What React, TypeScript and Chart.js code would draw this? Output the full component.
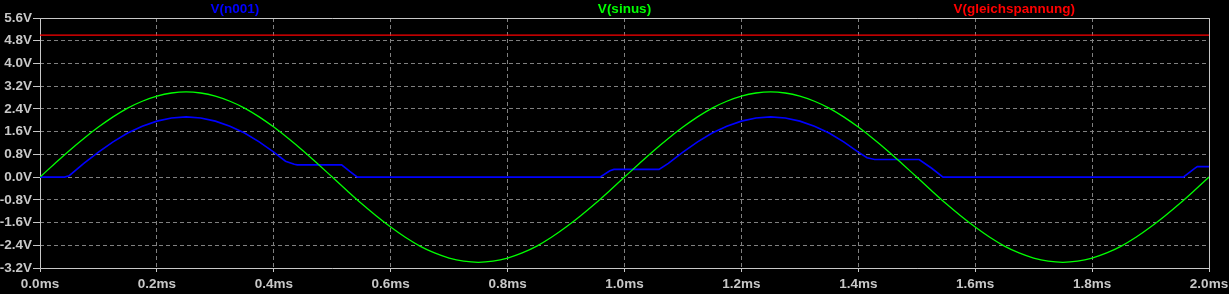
import React, { useEffect, useRef } from 'react';
import { Chart, registerables } from 'chart.js';

Chart.register(...registerables);

// ---- data ----
const sinusTime = [
  0, 0.025, 0.05, 0.075, 0.1, 0.125, 0.15, 0.175, 0.2, 0.225,
  0.25, 0.275, 0.3, 0.325, 0.35, 0.375, 0.4, 0.425, 0.45, 0.475,
  0.5, 0.525, 0.55, 0.575, 0.6, 0.625, 0.65, 0.675, 0.7, 0.725,
  0.75, 0.775, 0.8, 0.825, 0.85, 0.875, 0.9, 0.925, 0.95, 0.975,
  1.0, 1.025, 1.05, 1.075, 1.1, 1.125, 1.15, 1.175, 1.2, 1.225,
  1.25, 1.275, 1.3, 1.325, 1.35, 1.375, 1.4, 1.425, 1.45, 1.475,
  1.5, 1.525, 1.55, 1.575, 1.6, 1.625, 1.65, 1.675, 1.7, 1.725,
  1.75, 1.775, 1.8, 1.825, 1.85, 1.875, 1.9, 1.925, 1.95, 1.975,
  2.0,
];
const sinusV = [
  0, 0.47, 0.93, 1.36, 1.76, 2.12, 2.43, 2.67, 2.85, 2.96,
  3.0, 2.96, 2.85, 2.67, 2.43, 2.12, 1.76, 1.36, 0.93, 0.47,
  0, -0.47, -0.93, -1.36, -1.76, -2.12, -2.43, -2.67, -2.85, -2.96,
  -3.0, -2.96, -2.85, -2.67, -2.43, -2.12, -1.76, -1.36, -0.93, -0.47,
  0, 0.47, 0.93, 1.36, 1.76, 2.12, 2.43, 2.67, 2.85, 2.96,
  3.0, 2.96, 2.85, 2.67, 2.43, 2.12, 1.76, 1.36, 0.93, 0.47,
  0, -0.47, -0.93, -1.36, -1.76, -2.12, -2.43, -2.67, -2.85, -2.96,
  -3.0, -2.96, -2.85, -2.67, -2.43, -2.12, -1.76, -1.36, -0.93, -0.47,
  0,
];

const n001Time = [
  0, 0.042, 0.05, 0.075, 0.1, 0.125, 0.15, 0.175, 0.2, 0.225,
  0.25, 0.275, 0.3, 0.325, 0.35, 0.375, 0.4, 0.42, 0.435, 0.44,
  0.516, 0.53, 0.543, 0.958, 0.975, 0.982, 1.059, 1.075, 1.1, 1.125,
  1.15, 1.175, 1.2, 1.225, 1.25, 1.275, 1.3, 1.325, 1.35, 1.375,
  1.4, 1.415, 1.428, 1.504, 1.525, 1.545, 1.956, 1.975, 1.98, 2.0,
];
const n001V = [
  0, 0, 0.05, 0.48, 0.88, 1.24, 1.55, 1.79, 1.97, 2.08,
  2.12, 2.08, 1.97, 1.79, 1.55, 1.24, 0.88, 0.56, 0.45, 0.43,
  0.43, 0.2, 0, 0, 0.22, 0.27, 0.27, 0.48, 0.88, 1.24,
  1.55, 1.79, 1.97, 2.08, 2.12, 2.08, 1.97, 1.79, 1.55, 1.24,
  0.88, 0.68, 0.62, 0.62, 0.32, 0, 0, 0.3, 0.37, 0.37,
];

const gleichTime = [0, 2.0];
const gleichV = [5.0, 5.0];

const seriesNames = ['V(n001)', 'V(sinus)', 'V(gleichspannung)'];
const seriesColors = ['#0000ff', '#00ff00', '#ff0000'];

const xMin = 0;
const xMax = 2.0;
const xStep = 0.2;
const yMin = -3.2;
const yMax = 5.6;
const yStep = 0.8;

const FONT = '"Liberation Sans", Arial, sans-serif';
const AXIS_COLOR = '#c8c8c8';
const GRID_COLOR = '#808080';

function zip(t: number[], v: number[]) {
  return t.map((x, i) => ({ x, y: v[i] }));
}

const align = (p: number) => Math.round(p - 0.5) + 0.5;

const framePlugin = {
  id: 'frame',
  beforeDatasetsDraw(chart: any) {
    const { ctx, chartArea } = chart;
    const l = align(chartArea.left);
    const r = align(chartArea.right);
    const t = align(chartArea.top);
    const b = align(chartArea.bottom);
    ctx.save();
    ctx.strokeStyle = AXIS_COLOR;
    ctx.lineWidth = 1;
    ctx.setLineDash([]);
    ctx.beginPath();
    ctx.moveTo(l, t);
    ctx.lineTo(r, t);
    ctx.lineTo(r, b);
    ctx.lineTo(l, b);
    ctx.closePath();
    ctx.stroke();
    ctx.restore();
  },
  afterDraw(chart: any) {
    const { ctx, chartArea } = chart;
    const w = chartArea.right - chartArea.left;
    ctx.save();
    ctx.font = `bold 13.5px ${FONT}`;
    ctx.textAlign = 'center';
    ctx.textBaseline = 'middle';
    seriesNames.forEach((name, i) => {
      ctx.fillStyle = seriesColors[i];
      ctx.fillText(name, chartArea.left + (w * (2 * i + 1)) / 6, 9.5);
    });
    ctx.restore();
  },
};

export default function App() {
  const ref = useRef<HTMLCanvasElement | null>(null);

  useEffect(() => {
    document.body.style.margin = '0';
    document.body.style.background = '#000';
    const canvas = ref.current;
    if (!canvas) return;
    const chart = new Chart(canvas, {
      type: 'line',
      data: {
        datasets: [
          {
            label: seriesNames[0],
            data: zip(n001Time, n001V),
            borderColor: seriesColors[0],
            borderWidth: 1.6,
            pointRadius: 0,
            tension: 0,
            order: 2,
          },
          {
            label: seriesNames[1],
            data: zip(sinusTime, sinusV),
            borderColor: seriesColors[1],
            borderWidth: 1.3,
            pointRadius: 0,
            cubicInterpolationMode: 'monotone',
            order: 1,
          },
          {
            label: seriesNames[2],
            data: zip(gleichTime, gleichV),
            borderColor: seriesColors[2],
            borderWidth: 1.3,
            pointRadius: 0,
            order: 0,
          },
        ],
      },
      options: {
        animation: false,
        responsive: false,
        maintainAspectRatio: false,
        events: [],
        layout: { padding: { top: 18, right: 20, left: 0, bottom: 0 } },
        plugins: {
          legend: { display: false },
          tooltip: { enabled: false },
          title: { display: false },
        },
        scales: {
          x: {
            type: 'linear',
            min: xMin,
            max: xMax,
            border: { display: false, dash: [4, 3] },
            grid: {
              color: GRID_COLOR,
              lineWidth: 1,
              drawTicks: true,
              tickLength: 4,
              tickColor: AXIS_COLOR,
              tickBorderDash: [],
            },
            ticks: {
              stepSize: xStep,
              autoSkip: false,
              maxRotation: 0,
              padding: 4,
              color: AXIS_COLOR,
              font: { family: FONT, size: 13.5, weight: 'bold' },
              callback: (v: any) => Number(v).toFixed(1) + 'ms',
            },
            afterFit: (s: any) => {
              s.height = 26;
              s.paddingLeft = 0;
              s.paddingRight = 0;
            },
          },
          y: {
            type: 'linear',
            min: yMin,
            max: yMax,
            border: { display: false, dash: [4, 3] },
            grid: {
              color: GRID_COLOR,
              lineWidth: 1,
              drawTicks: true,
              tickLength: 7,
              tickColor: AXIS_COLOR,
              tickBorderDash: [],
            },
            ticks: {
              stepSize: yStep,
              autoSkip: false,
              padding: 1,
              color: AXIS_COLOR,
              font: { family: FONT, size: 13.5, weight: 'bold' },
              callback: (v: any) => {
                const n = Math.abs(Number(v)) < 1e-9 ? 0 : Number(v);
                return n.toFixed(1) + 'V';
              },
            },
            afterFit: (s: any) => {
              s.width = 40;
              s.paddingTop = 0;
              s.paddingBottom = 0;
            },
          },
        },
      } as any,
      plugins: [framePlugin],
    });
    return () => chart.destroy();
  }, []);

  return (
    <div style={{ width: 1229, height: 294, background: '#000' }}>
      <canvas ref={ref} width={1229} height={294} style={{ display: 'block', background: '#000' }} />
    </div>
  );
}
